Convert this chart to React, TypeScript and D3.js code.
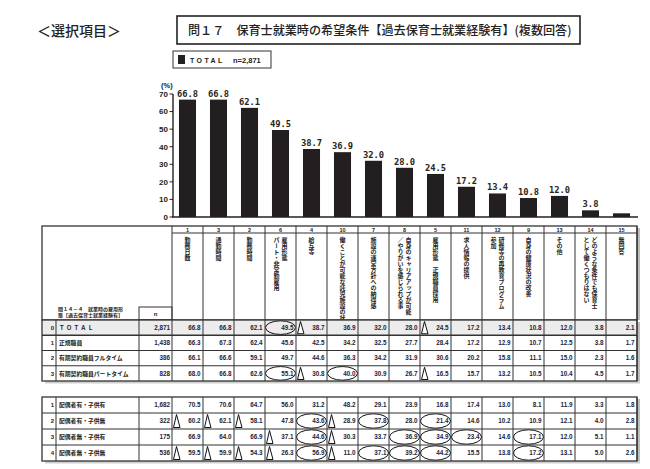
import React from 'react';
import * as d3 from 'd3';

// column order as printed (item numbers)
const itemNos = ['1', '3', '2', '6', '4', '10', '7', '8', '5', '11', '12', '9', '13', '14', '15'];
const itemLabels: string[][] = [
  ['勤務日数'],
  ['通勤時間'],
  ['勤務時間'],
  ['雇用形態', 'パート・非常勤雇用'],
  ['給与等'],
  ['働くことが可能な託児施設の状況'],
  ['施設の運営方針への納得感'],
  ['自身のキャリアアップが可能', '／やりがいを感じられる事'],
  ['雇用形態　正規職員採用'],
  ['求人情報の提供'],
  ['研修等の再教育プログラム', '参加'],
  ['自身の健康状況の改善'],
  ['その他'],
  ['どのような条件でも保育士', 'として働くつもりはない'],
  ['無回答'],
];
const totalValues = [66.8, 66.8, 62.1, 49.5, 38.7, 36.9, 32.0, 28.0, 24.5, 17.2, 13.4, 10.8, 12.0, 3.8, 2.1];
const barLabels = ['66.8', '66.8', '62.1', '49.5', '38.7', '36.9', '32.0', '28.0', '24.5', '17.2', '13.4', '10.8', '12.0', '3.8', ''];
const yTicks = [0, 10, 20, 30, 40, 50, 60, 70];

// upper cross table: employment type
const empNos = ['0', '1', '2', '3'];
const empLabels = ['ＴＯＴＡＬ', '正規職員', '有期契約職員フルタイム', '有期契約職員パートタイム'];
const empN = ['2,871', '1,438', '386', '828'];
const empValues = [
  [66.8, 66.8, 62.1, 49.5, 38.7, 36.9, 32.0, 28.0, 24.5, 17.2, 13.4, 10.8, 12.0, 3.8, 2.1],
  [66.3, 67.3, 62.4, 45.6, 42.5, 34.2, 32.5, 27.7, 28.4, 17.2, 12.9, 10.7, 12.5, 3.8, 1.7],
  [66.1, 66.6, 59.1, 49.7, 44.6, 36.3, 34.2, 31.9, 30.6, 20.2, 15.8, 11.1, 15.0, 2.3, 1.6],
  [68.0, 66.8, 62.6, 55.1, 30.8, 40.0, 30.9, 26.7, 16.5, 15.7, 13.2, 10.5, 10.4, 4.5, 1.7],
];
// o = circled (higher), t = triangle (lower)
const empMarks = [
  '...ot...t......',
  '...............',
  '...............',
  '...oto..t......',
];

// lower cross table: spouse / children
const famNos = ['1', '2', '3', '4'];
const famLabels = ['配偶者有・子供有', '配偶者有・子供無', '配偶者無・子供有', '配偶者無・子供無'];
const famN = ['1,682', '322', '175', '536'];
const famValues = [
  [70.5, 70.6, 64.7, 56.0, 31.2, 48.2, 29.1, 23.9, 16.8, 17.4, 13.0, 8.1, 11.9, 3.3, 1.8],
  [60.2, 62.1, 58.1, 47.8, 43.6, 28.9, 37.8, 28.0, 21.4, 14.6, 10.2, 10.9, 12.1, 4.0, 2.8],
  [66.9, 64.0, 66.9, 37.1, 44.6, 30.3, 33.7, 36.9, 34.9, 23.4, 14.6, 17.1, 12.0, 5.1, 1.1],
  [59.5, 59.9, 54.3, 26.3, 56.9, 11.0, 37.1, 39.2, 44.2, 15.5, 13.8, 17.2, 13.1, 5.0, 2.6],
];
const famMarks = [
  '...............',
  'ttt.oto.o......',
  '...tot.ooo.o...',
  'ttttotooo..o...',
];

const JP = '"Noto Sans CJK JP", "Noto Sans", sans-serif';
const NUM = '"Liberation Sans", Arial, sans-serif';
const MONO = '"DejaVu Sans Mono", monospace';
const LINE = '#333';

const colX = d3.scaleBand<number>().domain(d3.range(15)).range([172, 637]);
const barX = d3.scaleBand<number>().domain(d3.range(15)).range([172, 637]).paddingInner(0.45).paddingOuter(0.225);
const y = d3.scaleLinear().domain([0, 70]).range([217, 94]);

const TL = 42; // table left
const NUMCOL = 56;
const NCOL = 139;
const TR = 637;

function Table(props: {
  top: number; bottom: number; nos: string[]; labels: string[]; ns: string[];
  values: number[][]; marks: string[]; shadeFirst: boolean;
}) {
  const { top, bottom, nos, labels, ns, values, marks, shadeFirst } = props;
  const rowY = d3.scaleBand<number>().domain(d3.range(values.length)).range([top, bottom]);
  const rh = rowY.bandwidth();
  const cw = colX.bandwidth();
  return (
    <g>
      {shadeFirst && <rect x={TL} y={top} width={TR - TL} height={rh} fill="#ececec" />}
      {/* shadow */}
      <rect x={TR} y={top + 2} width={3} height={bottom - top} fill="#bdbdbd" />
      <rect x={TL + 3} y={bottom} width={TR - TL} height={2.5} fill="#cfcfcf" />
      {values.map((row, r) => {
        const yy = rowY(r)!;
        const cy = yy + rh / 2;
        const isTotal = labels[r] === 'ＴＯＴＡＬ';
        return (
          <g key={r}>
            <text x={NUMCOL - 2} y={cy + 2.2} fontSize={6} fontFamily={NUM} fontWeight={700} textAnchor="end" fill="#222">{nos[r]}</text>
            <text x={NUMCOL + 3} y={cy + 2.2} fontSize={isTotal ? 5.6 : 5.8} letterSpacing={isTotal ? 1.6 : 0}
              fontFamily={JP} fontWeight={700} fill="#222">{labels[r]}</text>
            <text x={172 - 2} y={cy + 2.2} fontSize={6.3} fontFamily={NUM} fontWeight={700} textAnchor="end" fill="#1d1d3a">{ns[r]}</text>
            {row.map((v, c) => {
              const x0 = colX(c)!;
              const m = marks[r][c];
              return (
                <g key={c}>
                  {m === 'o' && <ellipse cx={x0 + cw / 2} cy={cy} rx={15} ry={rh / 2 - 0.8} fill="none" stroke="#111" strokeWidth={1} />}
                  {m === 't' && <path d={`M${x0 + 1.5},${yy + rh - 1.5} L${x0 + 4.5},${yy + 1.5} L${x0 + 8},${yy + rh - 1.5} Z`} fill="#fff" stroke="#111" strokeWidth={1} />}
                  <text x={x0 + cw - 2.5} y={cy + 2.3} fontSize={6.3} fontFamily={NUM} fontWeight={700} textAnchor="end" fill="#1d1d3a">{v.toFixed(1)}</text>
                </g>
              );
            })}
            {r > 0 && <line x1={TL} x2={TR} y1={yy} y2={yy} stroke={LINE} strokeWidth={shadeFirst && r === 1 ? 1.4 : 1} />}
          </g>
        );
      })}
      {d3.range(16).map(i => {
        const x = i < 15 ? colX(i)! : TR;
        return <line key={i} x1={x} x2={x} y1={top} y2={bottom} stroke={LINE} strokeWidth={1} />;
      })}
      <line x1={NUMCOL} x2={NUMCOL} y1={top} y2={bottom} stroke={LINE} />
      <line x1={NCOL} x2={NCOL} y1={top} y2={bottom} stroke={LINE} />
      <rect x={TL} y={top} width={TR - TL} height={bottom - top} fill="none" stroke={LINE} strokeWidth={1.3} />
    </g>
  );
}

export default function App() {
  const W = 650, H = 469;
  const cw = colX.bandwidth();
  return (
    <svg width={W} height={H} style={{ position: 'absolute', left: 0, top: 0, background: '#fff' }}>
      {/* headings */}
      <text x={37} y={36} fontSize={14} fontFamily={JP} fontWeight={500} fill="#222">＜選択項目＞</text>
      <rect x={177} y={16} width={403} height={28} fill="#fff" stroke="#222" strokeWidth={1.6} />
      <text x={188} y={35} fontSize={12.1} fontFamily={JP} fontWeight={500} fill="#222">問１７　保育士就業時の希望条件【過去保育士就業経験有】(複数回答)</text>

      {/* legend */}
      <rect x={173} y={51} width={98} height={17} fill="#fff" stroke="#333" strokeWidth={1} />
      <rect x={178} y={55} width={7} height={9} fill="#222" />
      <text x={190} y={63} fontSize={7} fontFamily={NUM} fontWeight={700} letterSpacing={2.4} fill="#222">TOTAL</text>
      <text x={233} y={63} fontSize={7.5} fontFamily={NUM} fontWeight={700} fill="#222">n=2,871</text>

      {/* y axis */}
      <text x={161} y={88} fontSize={7.5} fontFamily={NUM} fontWeight={700} fill="#222">(%)</text>
      {yTicks.map(t => (
        <g key={t}>
          <line x1={169.5} x2={173} y1={y(t)} y2={y(t)} stroke="#222" strokeWidth={1} />
          <text x={168} y={y(t) + 2.8} fontSize={8} fontFamily={NUM} fontWeight={700} textAnchor="end" fill="#222">{t}</text>
        </g>
      ))}
      <line x1={173} x2={173} y1={y(70)} y2={y(0)} stroke="#222" strokeWidth={1.4} />

      {/* bars */}
      {totalValues.map((v, i) => (
        <g key={i}>
          <rect x={barX(i)} y={y(v)} width={barX.bandwidth()} height={y(0) - y(v)} fill="#231f20" />
          {barLabels[i] && (
            <text x={barX(i)! + barX.bandwidth() / 2} y={y(v) - 3} fontSize={8.8} fontFamily={MONO} fontWeight={700}
              textAnchor="middle" fill="#2a2620">{barLabels[i]}</text>
          )}
        </g>
      ))}
      <line x1={172} x2={638} y1={y(0)} y2={y(0)} stroke="#222" strokeWidth={1.5} />

      {/* header of the table */}
      <line x1={172} x2={TR} y1={233} y2={233} stroke={LINE} strokeWidth={1} />
      {itemNos.map((n, i) => (
        <text key={'n' + i} x={colX(i)! + cw / 2} y={231.8} fontSize={5.5} fontFamily={NUM} fontWeight={700} textAnchor="middle" fill="#222">{n}</text>
      ))}
      {itemLabels.map((lines, i) => {
        const cx = colX(i)! + cw / 2;
        return lines.map((s, k) => {
          const off = lines.length === 1 ? 0 : (k === 0 ? 4 : -4);
          return (
            <text key={i + '-' + k} x={cx + off} y={237} fontSize={6} fontFamily={JP} fontWeight={700}
              fill="#222" style={{ writingMode: 'vertical-rl' } as any}>{s}</text>
          );
        });
      })}
      <rect x={TR} y={228} width={3} height={92} fill="#bdbdbd" />
      {d3.range(16).map(i => {
        const x = i < 15 ? colX(i)! : TR;
        return <line key={'v' + i} x1={x} x2={x} y1={226} y2={320} stroke={LINE} strokeWidth={1} />;
      })}
      <rect x={TL} y={226} width={TR - TL} height={94} fill="none" stroke={LINE} strokeWidth={1.3} />
      <rect x={NCOL} y={307} width={172 - NCOL} height={13} fill="none" stroke={LINE} strokeWidth={1} />
      <text x={155.5} y={315.5} fontSize={6} fontFamily={NUM} fontWeight={700} textAnchor="middle" fill="#222">n</text>
      <text x={58} y={311} fontSize={5} fontFamily={JP} fontWeight={700} fill="#222">問１４－４　就業時の雇用形</text>
      <text x={58} y={317} fontSize={5} fontFamily={JP} fontWeight={700} fill="#222">態【過去保育士就業経験有】</text>

      <Table top={320} bottom={381} nos={empNos} labels={empLabels} ns={empN} values={empValues} marks={empMarks} shadeFirst={true} />
      <Table top={397} bottom={461} nos={famNos} labels={famLabels} ns={famN} values={famValues} marks={famMarks} shadeFirst={false} />
    </svg>
  );
}
